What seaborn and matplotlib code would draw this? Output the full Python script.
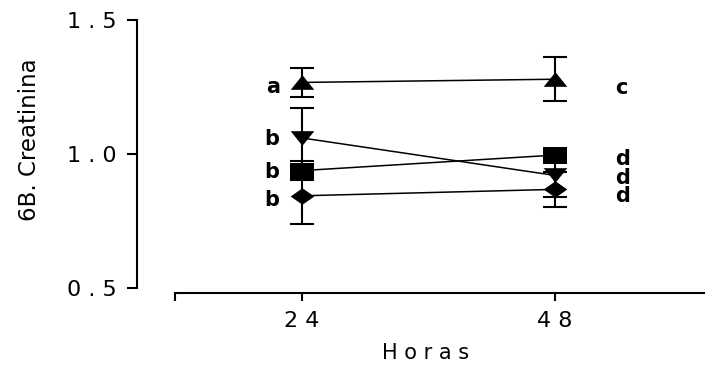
import matplotlib
matplotlib.use("Agg")
import matplotlib.pyplot as plt
from matplotlib.path import Path
import seaborn as sns
import pandas as pd

# Data: creatinine at 24 h and 48 h for four groups (mean and error)
horas = [24, 48]
grupos = ["tri_up", "tri_down", "square", "diamond"]
tri_up = [1.267, 1.279]
tri_up_err = [0.055, 0.083]
tri_down = [1.06, 0.92]
tri_down_err = [0.11, 0.08]
square = [0.938, 0.996]
square_err = [0.035, 0.02]
diamond = [0.844, 0.868]
diamond_err = [0.106, 0.064]

# Significance letters and where they sit
letras_24 = ["a", "b", "b", "b"]
letras_24_y = [1.257, 1.063, 0.94, 0.836]
letras_48 = ["c", "d", "d", "d"]
letras_48_y = [1.254, 0.987, 0.918, 0.849]

ytick_vals = [0.5, 1.0, 1.5]
ytick_labels = ["0 . 5", "1 . 0", "1 . 5"]
xtick_vals = [12, 24, 48]
xtick_labels = ["", "2 4", "4 8"]

sns.set_style("ticks")
plt.rcParams["font.family"] = ["DejaVu Sans"]
plt.rcParams["text.color"] = "black"
plt.rcParams["axes.labelcolor"] = "black"

# Flattened marker shapes
m_up = Path([(0, 0.62), (-1, -0.62), (1, -0.62), (0, 0.62)], closed=True)
m_down = Path([(0, -0.62), (-1, 0.62), (1, 0.62), (0, -0.62)], closed=True)
m_sq = Path([(-1, -0.72), (1, -0.72), (1, 0.72), (-1, 0.72), (-1, -0.72)], closed=True)
m_dia = Path([(-1, 0), (0, 0.7), (1, 0), (0, -0.7), (-1, 0)], closed=True)

series = {
    "tri_up": (tri_up, tri_up_err, m_up),
    "tri_down": (tri_down, tri_down_err, m_down),
    "square": (square, square_err, m_sq),
    "diamond": (diamond, diamond_err, m_dia),
}

fig = plt.figure(figsize=(7.05, 3.66), dpi=100)
ax = fig.add_axes([175 / 705, 78 / 366, 530 / 705, 268 / 366])

for g in grupos:
    vals, errs, mk = series[g]
    df = pd.DataFrame({"Horas": horas, "valor": vals})
    ax.errorbar(horas, vals, yerr=errs, fmt="none", ecolor="black",
                elinewidth=1.5, capsize=8.5, capthick=1.5, zorder=2)
    sns.lineplot(data=df, x="Horas", y="valor", ax=ax, color="black",
                 linewidth=1.1, marker=mk, markersize=17,
                 markeredgewidth=0, markerfacecolor="black", zorder=3)

for lt, ly in zip(letras_24, letras_24_y):
    ax.annotate(lt, xy=(24, ly), xytext=(-22, 0), textcoords="offset pixels",
                ha="right", va="center_baseline", fontsize=15,
                fontweight="bold", color="black")
for lt, ly in zip(letras_48, letras_48_y):
    ax.annotate(lt, xy=(48, ly), xytext=(60, 0), textcoords="offset pixels",
                ha="left", va="center_baseline", fontsize=15,
                fontweight="bold", color="black")

ax.set_xlim(12, 62.2)
ax.set_ylim(0.5, 1.5)
ax.set_yticks(ytick_vals)
ax.set_yticklabels(ytick_labels)
ax.set_xticks(xtick_vals)
ax.set_xticklabels(xtick_labels)

for s in ["top", "right"]:
    ax.spines[s].set_visible(False)
ax.spines["left"].set_position(("outward", 27.4))
ax.spines["bottom"].set_position(("outward", 3.6))
ax.spines["left"].set_linewidth(1.5)
ax.spines["bottom"].set_linewidth(1.5)
ax.spines["left"].set_color("black")
ax.spines["bottom"].set_color("black")
ax.tick_params(axis="y", direction="out", length=7.5, width=1.5, pad=7,
               labelsize=16, colors="black")
ax.tick_params(axis="x", direction="out", length=6, width=1.5, pad=7,
               labelsize=16, colors="black")

ax.set_xlabel("H o r a s", fontsize=15)
ax.xaxis.set_label_coords((426 - 175) / 530, -(363 - 288) / 268)
ax.xaxis.label.set_va("bottom")
ax.set_ylabel("6B. Creatinina", fontsize=16.5)
ax.yaxis.set_label_coords(-(175 - 30) / 530, (288 - 140) / 268)
ax.yaxis.label.set_va("center")

fig.savefig("out.png", dpi=100)
